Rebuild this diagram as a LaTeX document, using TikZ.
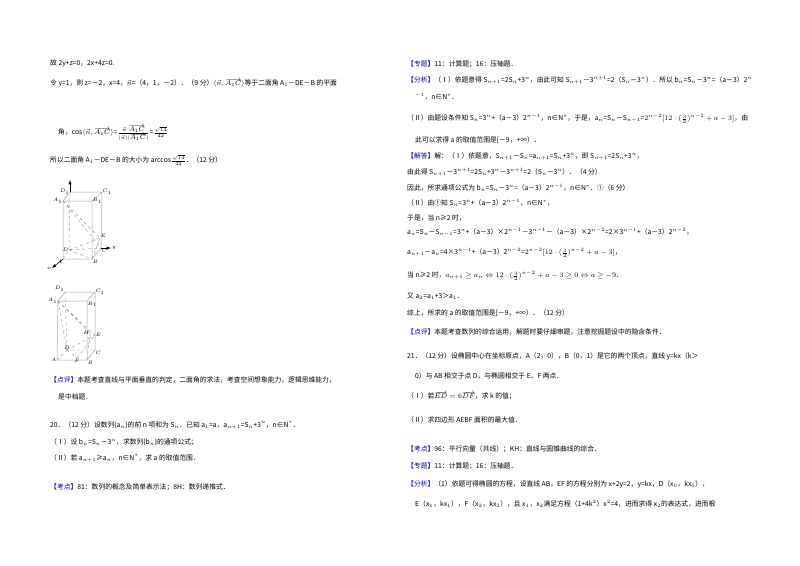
\documentclass[tikz,border=0pt]{standalone}
\usepackage{fontspec}
\setmainfont{Noto Sans CJK SC}
\begin{document}
\begin{tikzpicture}[x=1pt,y=-1pt,
 t/.style={anchor=west,inner sep=0pt,font=\fontsize{6.8}{7}\selectfont},
 lb/.style={inner sep=0.5pt,font=\fontsize{5}{5}\selectfont\itshape},
 e/.style={draw=gray!70,line width=0.5pt},
 d/.style={draw=gray!80,dashed,line width=0.4pt}]
\path[use as bounding box,fill=white] (0,0) rectangle (800,565);
% left column
\node[t] (l1) at (50,63) {故 2y+z=0，2x+4z=0.};
\node[t] (l2) at (50,83) {令 y=1，则 z=－2，x=4，$\vec{n}$=（4，1，－2）．（9 分）$\langle\vec{n},\overrightarrow{A_1C}\rangle$等于二面角 A$_1$－DE－B 的平面};
\node[t] (l3) at (58,133) {角，cos$\langle\vec{n},\overrightarrow{A_1C}\rangle$=$\frac{\vec{n}\cdot\overrightarrow{A_1C}}{|\vec{n}||\overrightarrow{A_1C}|}$=$\frac{\sqrt{14}}{42}$};
\node[t] (l4) at (50,160) {所以二面角 A$_1$－DE－B 的大小为 arccos$\frac{\sqrt{14}}{42}$．（12 分）};
% figure 1
\coordinate (D1) at (70,192); \coordinate (C1) at (102,192);
\coordinate (A1) at (63,201); \coordinate (B1) at (92,201);
\coordinate (D) at (69,250); \coordinate (C) at (101,248);
\coordinate (A) at (63,259); \coordinate (B) at (92,259);
\coordinate (E) at (100,238);
\draw[e] (A1)--(B1)--(C1)--(D1)--cycle (A1)--(A)--(B)--(B1) (C1)--(C)--(B);
\draw[d] (D1)--(D) (A)--(D)--(C) (A1)--(E) (D)--(E) (D)--(B) (A1)--(C) (B)--(E);
\draw[-latex,line width=0.5pt] (D1)--(70,180);
\draw[-latex,line width=0.5pt] (C)--(111,248);
\draw[-latex,line width=0.5pt] (A)--(52,268);
\node[lb,anchor=east] at (D1) {$D_1$}; \node[lb,anchor=west] at (C1) {$C_1$};
\node[lb,anchor=east] at (A1) {$A_1$}; \node[lb,anchor=west] at (B1) {$B_1$};
\node[lb,anchor=east] at (D) {$D$}; \node[lb,anchor=north west] at (C) {$C$};
\node[lb,anchor=north east] at (A) {$A$}; \node[lb,anchor=north west] at (B) {$B$};
\node[lb,anchor=south west] at (E) {$E$}; \node[lb] at (49,268) {$x$}; \node[lb] at (114,248) {$y$};
% figure 2
\coordinate (d1) at (65,292); \coordinate (c1) at (95,292);
\coordinate (a1) at (58,301); \coordinate (b1) at (87,301);
\coordinate (d) at (67,350); \coordinate (c) at (95,350);
\coordinate (a) at (57,360); \coordinate (b) at (87,360);
\coordinate (e2) at (95,335); \coordinate (h) at (90,333); \coordinate (f) at (77,358);
\draw[e] (a1)--(b1)--(c1)--(d1)--cycle (a1)--(a)--(b)--(b1) (c1)--(c)--(b);
\draw[d] (d1)--(d) (a)--(d)--(c) (a1)--(e2) (a1)--(h) (d)--(e2) (a1)--(d) (d)--(f) (h)--(b) (f)--(e2);
\node[lb,anchor=south east] at (d1) {$D_1$}; \node[lb,anchor=west] at (c1) {$C_1$};
\node[lb,anchor=east] at (a1) {$A_1$}; \node[lb,anchor=north west] at (b1) {$B_1$};
\node[lb,anchor=south] at (d) {$D$}; \node[lb,anchor=north west] at (c) {$C$};
\node[lb,anchor=east] at (a) {$A$}; \node[lb,anchor=north west] at (b) {$B$};
\node[lb,anchor=west] at (e2) {$E$}; \node[lb,anchor=east] at (h) {$H$}; \node[lb,anchor=north] at (f) {$F$};
\node[t] (l5) at (50,380) {{\color{blue!70!black}【点评】}本题考查直线与平面垂直的判定，二面角的求法，考查空间想象能力，逻辑思维能力，};
\node[t] (l6) at (58,397) {是中档题．};
\node[t] (l7) at (50,425) {20．（12 分）设数列\{a$_n$\}的前 n 项和为 S$_n$．已知 a$_1$=a，a$_{n+1}$=S$_n$+3$^n$，n∈N$^*$．};
\node[t] (l8) at (50,442) {（Ⅰ）设 b$_n$=S$_n$－3$^n$，求数列\{b$_n$\}的通项公式；};
\node[t] (l9) at (50,458) {（Ⅱ）若 a$_{n+1}$≥a$_n$，n∈N$^*$，求 a 的取值范围．};
\node[t] (l10) at (50,487) {{\color{blue!70!black}【考点】}81：数列的概念及简单表示法；8H：数列递推式．};
% right column
\node[t] (r1) at (407,64) {{\color{blue!70!black}【专题】}11：计算题；16：压轴题．};
\node[t] (r2) at (407,80) {{\color{blue!70!black}【分析】}（Ⅰ）依题意得 S$_{n+1}$=2S$_n$+3$^n$，由此可知 S$_{n+1}$－3$^{n+1}$=2（S$_n$－3$^n$）．所以 b$_n$=S$_n$－3$^n$=（a－3）2$^n$};
\node[t] (r3) at (415,97) {$^{-1}$，n∈N$^*$．};
\node[t] (r4) at (407,119) {（Ⅱ）由题设条件知 S$_n$=3$^n$+（a－3）2$^{n-1}$，n∈N$^*$，于是，a$_n$=S$_n$－S$_{n-1}$=$2^{n-2}[12\cdot(\frac{3}{2})^{n-2}+a-3]$，由};
\node[t] (r5) at (415,140) {此可以求得 a 的取值范围是[－9，+∞）．};
\node[t] (r6) at (407,157) {{\color{blue!70!black}【解答】}解：（Ⅰ）依题意，S$_{n+1}$－S$_n$=a$_{n+1}$=S$_n$+3$^n$，即 S$_{n+1}$=2S$_n$+3$^n$，};
\node[t] (r7) at (407,172) {由此得 S$_{n+1}$－3$^{n+1}$=2S$_n$+3$^n$－3$^{n+1}$=2（S$_n$－3$^n$）．（4 分）};
\node[t] (r8) at (407,188) {因此，所求通项公式为 b$_n$=S$_n$－3$^n$=（a－3）2$^{n-1}$，n∈N$^*$．①（6 分）};
\node[t] (r9) at (407,203) {（Ⅱ）由①知 S$_n$=3$^n$+（a－3）2$^{n-1}$，n∈N$^*$，};
\node[t] (r10) at (407,218) {于是，当 n≥2 时，};
\node[t] (r11) at (407,232) {a$_n$=S$_n$－S$_{n-1}$=3$^n$+（a－3）×2$^{n-1}$－3$^{n-1}$－（a－3）×2$^{n-2}$=2×3$^{n-1}$+（a－3）2$^{n-2}$，};
\node[t] (r12) at (407,253) {a$_{n+1}$－a$_n$=4×3$^{n-1}$+（a－3）2$^{n-2}$=$2^{n-2}[12\cdot(\frac{3}{2})^{n-2}+a-3]$，};
\node[t] (r13) at (407,276) {当 n≥2 时，$a_{n+1}\geq a_n\Leftrightarrow 12\cdot(\frac{3}{2})^{n-2}+a-3\geq0\Leftrightarrow a\geq-9$．};
\node[t] (r14) at (407,296) {又 a$_2$=a$_1$+3＞a$_1$．};
\node[t] (r15) at (407,313) {综上，所求的 a 的取值范围是[－9，+∞）．（12 分）};
\node[t] (r16) at (407,332) {{\color{blue!70!black}【点评】}本题考查数列的综合运用，解题时要仔细审题，注意挖掘题设中的隐含条件．};
\node[t] (r17) at (407,356) {21．（12 分）设椭圆中心在坐标原点，A（2，0），B（0，1）是它的两个顶点，直线 y=kx（k＞};
\node[t] (r18) at (415,376) {0）与 AB 相交于点 D，与椭圆相交于 E、F 两点．};
\node[t] (r19) at (407,396) {（Ⅰ）若$\overrightarrow{ED}=6\overrightarrow{DF}$，求 k 的值；};
\node[t] (r20) at (407,420) {（Ⅱ）求四边形 AEBF 面积的最大值．};
\node[t] (r21) at (407,449) {{\color{blue!70!black}【考点】}96：平行向量（共线）；KH：直线与圆锥曲线的综合．};
\node[t] (r22) at (407,466) {{\color{blue!70!black}【专题】}11：计算题；16：压轴题．};
\node[t] (r23) at (407,484) {{\color{blue!70!black}【分析】}（1）依题可得椭圆的方程，设直线 AB，EF 的方程分别为 x+2y=2，y=kx，D（x$_0$，kx$_0$），};
\node[t] (r24) at (415,504) {E（x$_1$，kx$_1$），F（x$_2$，kx$_2$），且 x$_1$，x$_2$满足方程（1+4k$^2$）x$^2$=4，进而求得 x$_2$的表达式，进而根};
\end{tikzpicture}
\end{document}
